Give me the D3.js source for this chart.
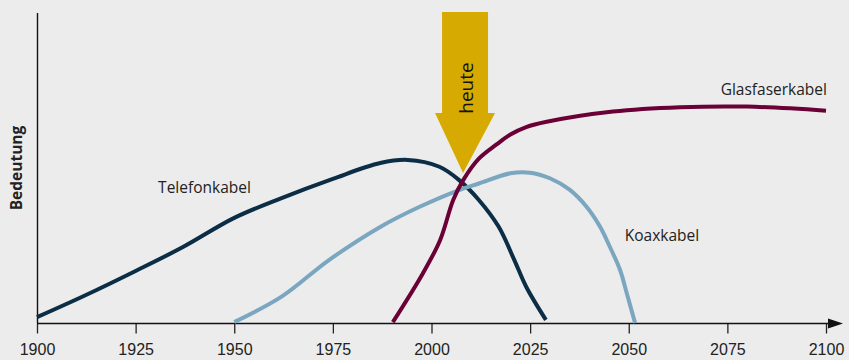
<!DOCTYPE html>
<html>
<head>
<meta charset="utf-8">
<script src="https://cdn.jsdelivr.net/npm/d3@7"></script>
<style>
  html, body { margin: 0; padding: 0; background: #ececec; }
  svg { display: block; font-family: "Open Sans", sans-serif; }
  .x-axis text { font-size: 16px; fill: #222; }
  .x-axis line { stroke: #222; stroke-width: 1.3; }
  .label { font-size: 15.5px; fill: #222; }
</style>
</head>
<body>
<div id="chart"></div>
<script>
/* Kabel-Technologien: Bedeutung im Zeitverlauf */

const height = 360,
    width = 849,
    margin = ({ top: 13, right: 23, bottom: 37, left: 37 });

// Telefonkabel
const telYears = [1900, 1912, 1925, 1937, 1950, 1962, 1975, 1987, 1994, 2002, 2007, 2012, 2017, 2021, 2024, 2029];
const telValues = [1.9, 8.8, 16.8, 24.5, 33.9, 40.3, 46.5, 51.6, 52.6, 50.4, 46.1, 39.7, 31.1, 20.3, 11.7, 1.0];

// Koaxkabel
const koaxYears = [1950, 1962, 1974, 1987, 1997, 2007, 2012, 2020, 2025, 2030, 2035, 2039.3, 2042.7, 2045.2, 2047.8, 2049.5, 2051.6];
const koaxValues = [0.3, 8.5, 20.3, 31, 37.5, 42.9, 45, 48.3, 48.5, 46.7, 43, 37.5, 31.1, 24.6, 17.1, 9.6, 0];

// Glasfaserkabel
const glasYears = [1990.2, 1997.8, 2002.2, 2005.5, 2008, 2012, 2016.5, 2020, 2024, 2029.2, 2046, 2063, 2080, 2100];
const glasValues = [0.3, 16, 26.8, 39.7, 46, 53, 57.6, 60.8, 63.2, 64.9, 68.2, 69.6, 69.8, 68.5];

const tickYears = [1900, 1925, 1950, 1975, 2000, 2025, 2050, 2075, 2100];

const series = [
  { name: "Telefonkabel", years: telYears, values: telValues, color: "#0b2d45", label: [1930.7, 41.9] },
  { name: "Koaxkabel", years: koaxYears, values: koaxValues, color: "#7aa6bf", label: [2049, 26.5] },
  { name: "Glasfaserkabel", years: glasYears, values: glasValues, color: "#6a0035", label: [2073.3, 73.5] }
];

const svg = d3.select("#chart")
    .append("svg")
    .attr("width", width)
    .attr("height", height)
    .attr("viewBox", [0, 0, width, height]);

let x = d3.scaleLinear()
    .domain([1900, 2100])
    .range([margin.left, width - margin.right]);

let y = d3.scaleLinear()
    .domain([0, 100])
    .range([height - margin.bottom, margin.top]);

// Draws X Scale (ticks and labels only, axis line drawn separately with arrow)
let xAxis = svg.append("g")
    .attr("class", "x-axis")
    .attr("transform", `translate(0,${y(0) + 0.5})`)
    .call(d3.axisBottom(x).tickValues(tickYears).tickFormat(d3.format("d")).tickSize(10).tickSizeOuter(0));
xAxis.select(".domain").remove();
xAxis.selectAll("text").attr("y", 31).attr("dy", 0);

// axis lines
svg.append("line")
    .attr("x1", x(1900)).attr("x2", x(2100) + 10)
    .attr("y1", y(0) + 0.5).attr("y2", y(0) + 0.5)
    .attr("stroke", "#111").attr("stroke-width", 1.4);

svg.append("path")
    .attr("d", `M${x(2100) + 2},${y(0) + 0.5 - 5}L${x(2100) + 17},${y(0) + 0.5}L${x(2100) + 2},${y(0) + 0.5 + 5}Z`)
    .attr("fill", "#111");

svg.append("line")
    .attr("x1", x(1900) + 0.5).attr("x2", x(1900) + 0.5)
    .attr("y1", y(100)).attr("y2", y(0))
    .attr("stroke", "#111").attr("stroke-width", 1.4);

// Label for the Y Axis
svg.append("text")
    .attr("transform", `translate(22,${(y(0) + y(100)) / 2}) rotate(-90)`)
    .attr("text-anchor", "middle")
    .attr("font-size", "15.5px")
    .attr("font-weight", "bold")
    .attr("fill", "#222")
    .text("Bedeutung");

let line = d3.line()
    .x(d => x(d[0]))
    .y(d => y(d[1]))
    .curve(d3.curveCatmullRom.alpha(0.5));

for (let s of series) {
  svg.append("path")
      .datum(d3.zip(s.years, s.values))
      .attr("d", line)
      .attr("fill", "none")
      .attr("stroke", s.color)
      .attr("stroke-width", 4);

  svg.append("text")
      .attr("class", "label")
      .attr("x", x(s.label[0]))
      .attr("y", y(s.label[1]))
      .text(s.name);
}

// "heute" arrow
const heuteYear = 2008, heuteTip = 48.4;
const cx = x(heuteYear), tipY = y(heuteTip);
svg.append("path")
    .attr("d", `M${cx - 21},12 L${cx + 25},12 L${cx + 25},113 L${cx + 32},113 L${cx},${tipY} L${cx - 28},113 L${cx - 21},113 Z`)
    .attr("fill", "#d6aa00");

svg.append("text")
    .attr("transform", `translate(${cx + 10},88) rotate(-90)`)
    .attr("text-anchor", "middle")
    .attr("font-size", "19px")
    .attr("fill", "#111")
    .text("heute");
</script>
</body>
</html>
